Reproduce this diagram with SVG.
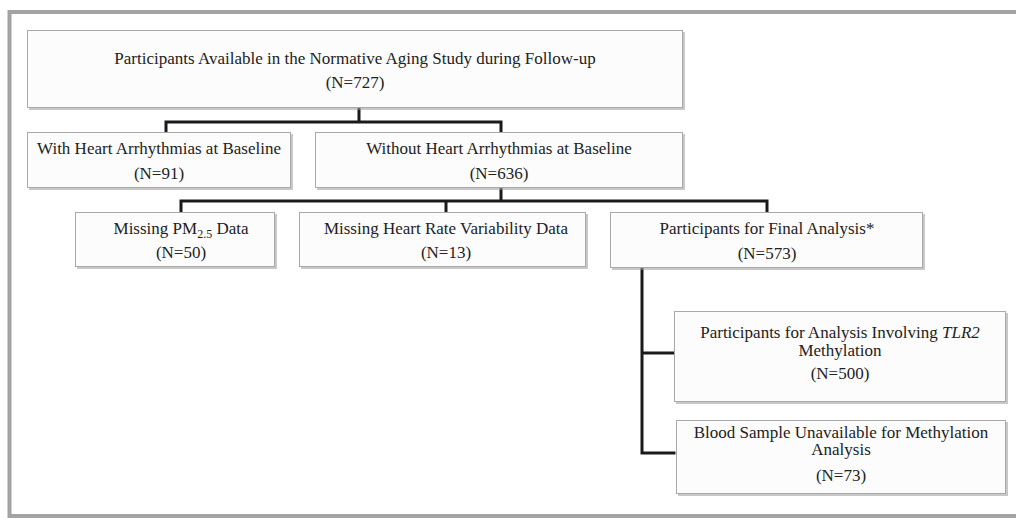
<svg xmlns="http://www.w3.org/2000/svg" width="1016" height="518" viewBox="0 0 1016 518">
<defs>
<style>
.box{fill:#fcfcfc;stroke:#a9a9a9;stroke-width:1}
.sh{fill:#9a9a9a;opacity:0.55}
.t{font-family:"Liberation Serif","Times New Roman",serif;font-size:17px;fill:#222;text-anchor:middle}
.c{fill:none;stroke:#1a1a1a;stroke-width:3;stroke-linejoin:miter;stroke-linecap:square}
</style>
</defs>
<rect width="1016" height="518" fill="#ffffff"/>
<rect x="9.5" y="12" width="1030" height="504" fill="none" stroke="#a3a3a3" stroke-width="4"/>

<g id="connectors">
<path class="c" d="M359 109 V122 H501 M166 132 V122 H359 M501 132 V122"/>
<path class="c" d="M501 189 V201 M181 211 V201 H767 V211 M446 211 V201"/>
<path class="c" d="M642 269 V453 H674 M642 353 H674"/>
</g>

<g id="n1">
<rect class="sh" x="29" y="32" width="656" height="78"/>
<rect class="box" x="27.5" y="30.5" width="655" height="77"/>
<text class="t" x="355" y="64">Participants Available in the Normative Aging Study during Follow-up</text>
<text class="t" x="355" y="88">(N=727)</text>
</g>

<g id="n2">
<rect class="sh" x="29" y="134" width="264" height="56"/>
<rect class="box" x="27.5" y="132.5" width="263" height="55"/>
<text class="t" x="159" y="154">With Heart Arrhythmias at Baseline</text>
<text class="t" x="159" y="179">(N=91)</text>
</g>

<g id="n3">
<rect class="sh" x="317" y="134" width="368" height="56"/>
<rect class="box" x="315.5" y="132.5" width="367" height="55"/>
<text class="t" x="499" y="154">Without Heart Arrhythmias at Baseline</text>
<text class="t" x="499" y="179">(N=636)</text>
</g>

<g id="n4">
<rect class="sh" x="77" y="214" width="200" height="55"/>
<rect class="box" x="75.5" y="212.5" width="199" height="54"/>
<text class="t" x="181" y="234">Missing PM<tspan font-size="12" dy="4">2.5</tspan><tspan dy="-4"> Data</tspan></text>
<text class="t" x="181" y="258">(N=50)</text>
</g>

<g id="n5">
<rect class="sh" x="301" y="214" width="287" height="55"/>
<rect class="box" x="299.5" y="212.5" width="286" height="54"/>
<text class="t" x="446" y="234">Missing Heart Rate Variability Data</text>
<text class="t" x="446" y="258">(N=13)</text>
</g>

<g id="n6">
<rect class="sh" x="612" y="214" width="313" height="56"/>
<rect class="box" x="610.5" y="212.5" width="312" height="55"/>
<text class="t" x="767" y="234">Participants for Final Analysis*</text>
<text class="t" x="767" y="259">(N=573)</text>
</g>

<g id="n7">
<rect class="sh" x="676" y="313" width="332" height="91"/>
<rect class="box" x="674.5" y="311.5" width="331" height="90"/>
<text class="t" x="840" y="338">Participants for Analysis Involving <tspan font-style="italic">TLR2</tspan></text>
<text class="t" x="840" y="356">Methylation</text>
<text class="t" x="840" y="379">(N=500)</text>
</g>

<g id="n8">
<rect class="sh" x="678" y="422" width="330" height="74"/>
<rect class="box" x="676.5" y="420.5" width="329" height="73"/>
<text class="t" x="841" y="438">Blood Sample Unavailable for Methylation</text>
<text class="t" x="841" y="455">Analysis</text>
<text class="t" x="841" y="481">(N=73)</text>
</g>
</svg>
